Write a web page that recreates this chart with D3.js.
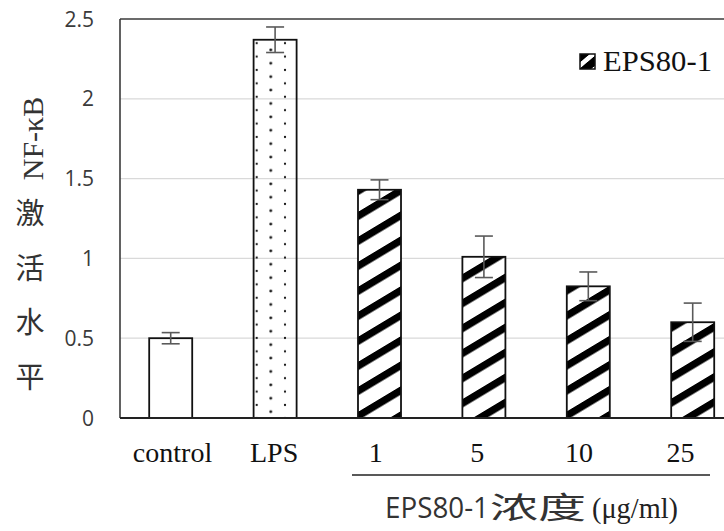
<!DOCTYPE html>
<html lang="zh">
<head>
    <meta charset="UTF-8">
    <title>NF-κB 激活水平</title>
    <script src="https://cdn.jsdelivr.net/npm/d3@7"></script>
    <style>
        body { margin: 0; background: #fff; }
        svg { display: block; }
    </style>
</head>
<body>
<script>

    // Daten
    let categories = ["control", "LPS", "1", "5", "10", "25"];
    let values = [0.50, 2.37, 1.43, 1.01, 0.825, 0.60];
    let errors = [0.035, 0.08, 0.062, 0.13, 0.09, 0.12];
    let fills = ["plain", "dots", "stripes", "stripes", "stripes", "stripes"];
    let yTicks = [0, 0.5, 1, 1.5, 2, 2.5];
    let legendLabel = "EPS80-1";
    let yTitleLatin = "NF-κB";
    let yTitleChars = ["激", "活", "水", "平"];

    let W = 724, H = 531;
    let plot = {left: 120, top: 19, right: 745, bottom: 418};

    let svg = d3.select("body").append("svg")
        .attr("width", W)
        .attr("height", H);

    let defs = svg.append("defs");

    // Punktmuster (LPS): versetzte Spalten
    let dots = defs.append("pattern")
        .attr("id", "dots")
        .attr("patternUnits", "userSpaceOnUse")
        .attr("x", 256.7).attr("y", 3)
        .attr("width", 28.3).attr("height", 13.4);
    [[0, 0], [28.3, 0], [0, 13.4], [28.3, 13.4]].forEach(function (p) {
        dots.append("circle").attr("cx", p[0]).attr("cy", p[1]).attr("r", 1.1).attr("fill", "#111");
    });
    dots.append("circle").attr("cx", 14.1).attr("cy", 6.7).attr("r", 1.4).attr("fill", "#111");

    // Schraegstreifen (EPS80-1)
    let stripes = defs.append("pattern")
        .attr("id", "stripes")
        .attr("patternUnits", "userSpaceOnUse")
        .attr("width", 20).attr("height", 25)
        .attr("patternTransform", "skewY(-31)");
    stripes.append("rect").attr("width", 20).attr("height", 25).attr("fill", "#fff");
    stripes.append("rect").attr("y", 2).attr("width", 20).attr("height", 8.5).attr("fill", "#000");

    let stripesSmall = defs.append("pattern")
        .attr("id", "stripesSmall")
        .attr("patternUnits", "userSpaceOnUse")
        .attr("x", 580).attr("y", 53)
        .attr("width", 16).attr("height", 16)
        .attr("patternTransform", "skewY(-40)");
    stripesSmall.append("rect").attr("width", 16).attr("height", 16).attr("fill", "#000");
    stripesSmall.append("rect").attr("y", 0).attr("width", 16).attr("height", 6).attr("fill", "#fff");

    // Skalen
    let x = d3.scaleBand()
        .domain(categories)
        .range([plot.left - 1.5, plot.left - 1.5 + 6 * 104.4])
        .paddingInner(0.588)
        .paddingOuter(0.294);

    let xLabel = d3.scalePoint()
        .domain(categories)
        .range([172, 680]);

    let y = d3.scaleLinear()
        .domain([0, 2.5])
        .range([plot.bottom, plot.top]);

    // Gitterlinien
    svg.append("g")
        .selectAll("line")
        .data(yTicks.filter(d => d > 0 && d < 2.5))
        .enter().append("line")
        .attr("x1", plot.left).attr("x2", W)
        .attr("y1", d => y(d)).attr("y2", d => y(d))
        .attr("stroke", "#d9d9d9")
        .attr("stroke-width", 1.2);

    // Rahmen
    svg.append("line")
        .attr("x1", plot.left).attr("x2", W)
        .attr("y1", y(2.5)).attr("y2", y(2.5))
        .attr("stroke", "#3a3a3a").attr("stroke-width", 1.6);
    svg.append("line")
        .attr("x1", plot.left).attr("x2", plot.left)
        .attr("y1", y(2.5)).attr("y2", y(0))
        .attr("stroke", "#3a3a3a").attr("stroke-width", 1.6);

    // Balken
    svg.append("g")
        .selectAll("rect")
        .data(categories)
        .enter().append("rect")
        .attr("x", d => x(d))
        .attr("y", (d, i) => y(values[i]))
        .attr("width", x.bandwidth())
        .attr("height", (d, i) => y(0) - y(values[i]))
        .attr("fill", (d, i) => fills[i] === "plain" ? "#fff" : "url(#" + fills[i] + ")")
        .attr("stroke", "#111")
        .attr("stroke-width", 1.8);

    // x-Achse (Grundlinie)
    svg.append("line")
        .attr("x1", plot.left).attr("x2", W)
        .attr("y1", y(0)).attr("y2", y(0))
        .attr("stroke", "#222").attr("stroke-width", 2);

    // Fehlerbalken
    let err = svg.append("g")
        .attr("stroke", "#5a5a5a")
        .attr("stroke-width", 1.6);
    categories.forEach(function (c, i) {
        let cx = x(c) + x.bandwidth() / 2;
        let top = y(values[i] + errors[i]);
        let bot = y(values[i] - errors[i]);
        err.append("line").attr("x1", cx).attr("x2", cx).attr("y1", top).attr("y2", bot);
        err.append("line").attr("x1", cx - 9).attr("x2", cx + 9).attr("y1", top).attr("y2", top);
        err.append("line").attr("x1", cx - 9).attr("x2", cx + 9).attr("y1", bot).attr("y2", bot);
    });

    // y-Achsenbeschriftung
    svg.append("g")
        .selectAll("text")
        .data(yTicks)
        .enter().append("text")
        .attr("x", 94)
        .attr("y", d => y(d))
        .attr("dy", "0.36em")
        .attr("text-anchor", "end")
        .attr("font-family", "'Open Sans', sans-serif")
        .attr("font-size", "21px")
        .attr("fill", "#3a3a3a")
        .text(d => d);

    // x-Achsenbeschriftung
    let xAxis = svg.append("g")
        .attr("transform", "translate(0," + 462 + ")")
        .call(d3.axisBottom(xLabel).tickSize(0).tickPadding(0));
    xAxis.select(".domain").remove();
    xAxis.selectAll("text")
        .attr("dy", 0)
        .attr("y", 0)
        .attr("font-family", "'Liberation Serif', serif")
        .attr("font-size", "28px")
        .attr("fill", "#111");

    // Klammerlinie unter den Konzentrationen
    svg.append("line")
        .attr("x1", 352).attr("x2", 710)
        .attr("y1", 475).attr("y2", 475)
        .attr("stroke", "#222").attr("stroke-width", 1.6);

    // Text horizontal auf Breite bringen
    function fitText(sel, x0, baseline, width) {
        let w = sel.node().getComputedTextLength();
        sel.attr("x", 0).attr("y", 0)
            .attr("transform", "translate(" + x0 + "," + baseline + ") scale(" + (width / w) + ",1)");
    }

    // x-Achsentitel
    let t1 = svg.append("text")
        .attr("font-family", "'Open Sans', sans-serif")
        .attr("font-size", "30px").attr("fill", "#333")
        .text("EPS80-1");
    fitText(t1, 385, 518, 104);
    let t2 = svg.append("text")
        .attr("font-family", "'Noto Sans CJK SC', sans-serif")
        .attr("font-size", "30px").attr("fill", "#333")
        .text("浓度");
    fitText(t2, 490, 518, 96);
    let t3 = svg.append("text")
        .attr("font-family", "'Liberation Serif', serif")
        .attr("font-size", "29px").attr("fill", "#222")
        .text("(μg/ml)");
    fitText(t3, 592, 518, 86);

    // y-Achsentitel
    svg.append("text")
        .attr("transform", "translate(43,138.5) rotate(-90)")
        .attr("text-anchor", "middle")
        .attr("font-family", "'Liberation Serif', serif")
        .attr("font-size", "30px")
        .attr("fill", "#333")
        .text(yTitleLatin);

    svg.append("g")
        .selectAll("text")
        .data(yTitleChars)
        .enter().append("text")
        .attr("x", 30)
        .attr("y", (d, i) => 214 + i * 54.5)
        .attr("dy", "0.36em")
        .attr("text-anchor", "middle")
        .attr("font-family", "'Noto Sans CJK SC', sans-serif")
        .attr("font-size", "29px")
        .attr("fill", "#333")
        .text(d => d);

    // Legende
    svg.append("rect")
        .attr("x", 580).attr("y", 54)
        .attr("width", 15).attr("height", 15)
        .attr("fill", "url(#stripesSmall)")
        .attr("stroke", "#111").attr("stroke-width", 1.5);
    let lt = svg.append("text")
        .attr("font-family", "'Liberation Serif', serif")
        .attr("font-size", "30px").attr("fill", "#111")
        .text(legendLabel);
    fitText(lt, 603, 71, 109);

</script>
</body>
</html>
